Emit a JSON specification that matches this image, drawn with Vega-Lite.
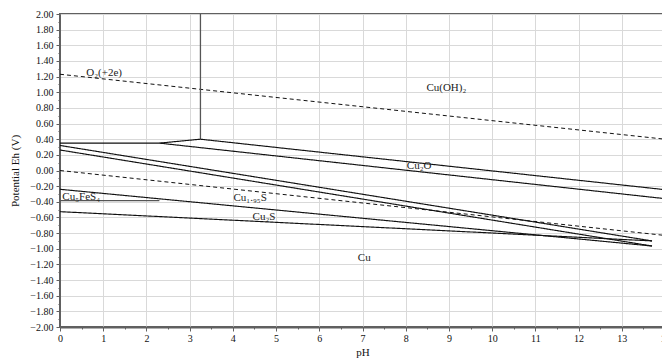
{
  "$schema": "https://vega.github.io/schema/vega-lite/v6.json",
  "autosize": {"type": "none"},
  "padding": {"left": 60, "top": 14, "right": 0, "bottom": 31},
  "width": 605,
  "height": 313,
  "config": {
    "font": "Liberation Serif",
    "view": {"stroke": "#606060", "strokeWidth": 2},
    "axis": {
      "labelFont": "Liberation Serif",
      "titleFont": "Liberation Serif",
      "labelColor": "#111111",
      "titleColor": "#111111",
      "labelFontSize": 10,
      "titleFontSize": 11,
      "titleFontWeight": "normal",
      "gridColor": "#d9d9d9",
      "gridWidth": 1,
      "tickColor": "#606060",
      "domainColor": "#606060",
      "labelOverlap": false,
      "labelFlush": false
    }
  },
  "datasets": {
    "lines": [
      {"seg": "O2", "kind": "water", "pH": 0, "E": 1.23},
      {"seg": "O2", "kind": "water", "pH": 14, "E": 0.40},
      {"seg": "H2", "kind": "water", "pH": 0, "E": 0.0},
      {"seg": "H2", "kind": "water", "pH": 14, "E": -0.83},
      {"seg": "V", "kind": "aux", "pH": 3.25, "E": 0.40},
      {"seg": "V", "kind": "aux", "pH": 3.25, "E": 2.0},
      {"seg": "Hcu", "kind": "boundary", "pH": 0, "E": 0.35},
      {"seg": "Hcu", "kind": "boundary", "pH": 2.3, "E": 0.35},
      {"seg": "Apex", "kind": "boundary", "pH": 2.3, "E": 0.35},
      {"seg": "Apex", "kind": "boundary", "pH": 3.25, "E": 0.40},
      {"seg": "Up", "kind": "boundary", "pH": 3.25, "E": 0.40},
      {"seg": "Up", "kind": "boundary", "pH": 14, "E": -0.245},
      {"seg": "Low", "kind": "boundary", "pH": 2.3, "E": 0.35},
      {"seg": "Low", "kind": "boundary", "pH": 14, "E": -0.36},
      {"seg": "A", "kind": "boundary", "pH": 0, "E": 0.32},
      {"seg": "A", "kind": "boundary", "pH": 13.7, "E": -0.90},
      {"seg": "B", "kind": "boundary", "pH": 0, "E": 0.262},
      {"seg": "B", "kind": "boundary", "pH": 13.7, "E": -0.965},
      {"seg": "C", "kind": "boundary", "pH": 0, "E": -0.24},
      {"seg": "C", "kind": "boundary", "pH": 13.7, "E": -0.965},
      {"seg": "D", "kind": "boundary", "pH": 0, "E": -0.526},
      {"seg": "D", "kind": "boundary", "pH": 13.7, "E": -0.90},
      {"seg": "Hs", "kind": "aux", "pH": 0, "E": -0.385},
      {"seg": "Hs", "kind": "aux", "pH": 2.3, "E": -0.385}
    ],
    "labels": [
      {"label": "O₂(+2e)", "pH": 1.02, "E": 1.25},
      {"label": "Cu(OH)₂", "pH": 8.94, "E": 1.05},
      {"label": "Cu₂O", "pH": 8.31, "E": 0.06},
      {"label": "Cu₁.₉₅S", "pH": 4.4, "E": -0.35},
      {"label": "Cu₂S", "pH": 4.72, "E": -0.59},
      {"label": "Cu₅FeS₄", "pH": 0.49, "E": -0.335},
      {"label": "Cu", "pH": 7.04, "E": -1.12}
    ]
  },
  "layer": [
    {
      "data": {"name": "lines"},
      "mark": {"type": "line", "clip": true},
      "encoding": {
        "x": {
          "field": "pH",
          "type": "quantitative",
          "scale": {"domain": [0, 14], "nice": false, "zero": false},
          "axis": {
            "title": "pH",
            "tickCount": 200,
            "values": [0, 0.5, 1, 1.5, 2, 2.5, 3, 3.5, 4, 4.5, 5, 5.5, 6, 6.5, 7, 7.5, 8, 8.5, 9, 9.5, 10, 10.5, 11, 11.5, 12, 12.5, 13, 13.5, 14],
            "labelExpr": "datum.value % 1 == 0 ? format(datum.value, 'd') : ''",
            "gridOpacity": {"condition": {"test": "datum.value % 1 != 0", "value": 0}, "value": 1},
            "tickSize": {"condition": {"test": "datum.value % 1 != 0", "value": 2}, "value": 4},
            "domainWidth": 2,
            "labelPadding": 2,
            "titlePadding": 3
          }
        },
        "y": {
          "field": "E",
          "type": "quantitative",
          "scale": {"domain": [-2, 2], "nice": false, "zero": false},
          "axis": {
            "title": "Potential Eh (V)",
            "tickCount": 200,
            "values": [-2, -1.9, -1.8, -1.7, -1.6, -1.5, -1.4, -1.3, -1.2, -1.1, -1, -0.9, -0.8, -0.7, -0.6, -0.5, -0.4, -0.3, -0.2, -0.1, 0, 0.1, 0.2, 0.3, 0.4, 0.5, 0.6, 0.7, 0.8, 0.9, 1, 1.1, 1.2, 1.3, 1.4, 1.5, 1.6, 1.7, 1.8, 1.9, 2],
            "labelExpr": "abs(round(datum.value * 10)) % 2 == 1 ? '' : format(datum.value, '.2f')",
            "gridOpacity": {"condition": {"test": "abs(round(datum.value * 10)) % 2 == 1", "value": 0}, "value": 1},
            "tickSize": {"condition": {"test": "abs(round(datum.value * 10)) % 2 == 1", "value": 2}, "value": 4},
            "domainWidth": 1,
            "labelPadding": 3,
            "titlePadding": 9
          }
        },
        "detail": {"field": "seg", "type": "nominal"},
        "color": {
          "field": "kind",
          "type": "nominal",
          "scale": {"domain": ["water", "boundary", "aux"], "range": ["#111111", "#111111", "#555555"]},
          "legend": null
        },
        "strokeDash": {
          "field": "kind",
          "type": "nominal",
          "scale": {"domain": ["water", "boundary", "aux"], "range": [[4, 3], [1, 0], [1, 0]]},
          "legend": null
        },
        "strokeWidth": {
          "field": "kind",
          "type": "nominal",
          "scale": {"domain": ["water", "boundary", "aux"], "range": [1, 1.3, 1.7]},
          "legend": null
        }
      }
    },
    {
      "data": {"name": "labels"},
      "mark": {"type": "text", "font": "Liberation Serif", "fontSize": 11, "color": "#222222", "align": "center", "baseline": "middle"},
      "encoding": {
        "x": {"field": "pH", "type": "quantitative"},
        "y": {"field": "E", "type": "quantitative"},
        "text": {"field": "label", "type": "nominal"}
      }
    }
  ]
}
